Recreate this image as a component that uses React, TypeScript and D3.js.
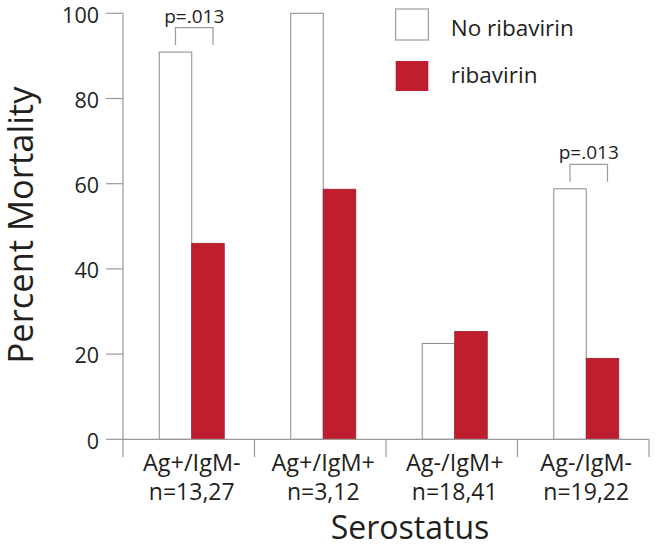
import React from "react";
import * as d3 from "d3";

const categories = ["Ag+/IgM-", "Ag+/IgM+", "Ag-/IgM+", "Ag-/IgM-"];
const sampleSizes = ["n=13,27", "n=3,12", "n=18,41", "n=19,22"];
const noRibavirin = [90.9, 100, 22.5, 58.8];
const ribavirin = [46, 58.7, 25.3, 19];
const yTicks = [0, 20, 40, 60, 80, 100];
const pValues = [{ group: 0, label: "p=.013" }, { group: 3, label: "p=.013" }];
const legendItems = ["No ribavirin", "ribavirin"];

const W = 656;
const H = 550;
const RED = "#be1e2d";
const GRAY = "#999999";
const TEXT = "#231f20";
const FONT = "'Open Sans', sans-serif";

export default function App() {
  const x = d3.scaleBand<string>().domain(categories).range([123, 649]).padding(0);
  const y = d3.scaleLinear().domain([0, 100]).range([439.3, 13.3]);
  const barW = 32.5;
  const offset = 3;
  const center = (c: string) => (x(c) as number) + x.bandwidth() / 2 + offset;
  const boundaries = [...categories.map((c) => x(c) as number), 649];

  return (
    <svg width={W} height={H} style={{ position: "absolute", left: 0, top: 0, background: "#fff" }} fontFamily={FONT}>
      <rect x={0} y={0} width={W} height={H} fill="#fff" />
      {/* bars */}
      {categories.map((c, i) => {
        const cx = center(c);
        return (
          <g key={c}>
            <rect x={cx - barW} y={y(noRibavirin[i])} width={barW} height={y(0) - y(noRibavirin[i])} fill="#fff" stroke="#8a8a8a" strokeWidth={1} />
            <rect x={cx} y={y(ribavirin[i])} width={barW} height={y(0) - y(ribavirin[i])} fill={RED} stroke="#a01825" strokeWidth={0.8} />
          </g>
        );
      })}
      {/* y axis */}
      <line x1={123} x2={123} y1={y(100)} y2={y(0)} stroke={GRAY} strokeWidth={1.2} />
      {yTicks.map((t) => (
        <g key={t}>
          <line x1={106} x2={123} y1={y(t)} y2={y(t)} stroke={GRAY} strokeWidth={1.2} />
          <text x={99} y={y(t) + 9.2} textAnchor="end" fontSize={21.5} fill={TEXT}>{t}</text>
        </g>
      ))}
      {/* x axis */}
      <line x1={123} x2={649} y1={y(0)} y2={y(0)} stroke={GRAY} strokeWidth={1.2} />
      {boundaries.map((b, i) => (
        <line key={i} x1={b} x2={b} y1={y(0)} y2={457} stroke={GRAY} strokeWidth={1.2} />
      ))}
      {categories.map((c, i) => (
        <g key={c}>
          <text x={center(c)} y={471} textAnchor="middle" fontSize={23.5} fill={TEXT}>{c}</text>
          <text x={center(c)} y={500} textAnchor="middle" fontSize={23} fill={TEXT}>{sampleSizes[i]}</text>
        </g>
      ))}
      {/* p-value brackets */}
      {pValues.map((p) => {
        const c = categories[p.group];
        const cx = center(c);
        const x1 = cx - barW / 2;
        const x2 = cx + barW / 2 + 5;
        const top = y(Math.max(noRibavirin[p.group], ribavirin[p.group]));
        const bottom = top - 7;
        const hy = bottom - 17.5;
        return (
          <g key={p.group}>
            <path d={`M${x1},${bottom}V${hy}H${x2}V${bottom}`} fill="none" stroke={GRAY} strokeWidth={1.2} />
            <text x={(x1 + x2) / 2} y={hy - 5} textAnchor="middle" fontSize={19} fill={TEXT}>{p.label}</text>
          </g>
        );
      })}
      {/* legend */}
      <rect x={395.7} y={9} width={32.6} height={31} fill="#fff" stroke="#8a8a8a" strokeWidth={1} />
      <rect x={395.7} y={61} width={32.6} height={30} fill={RED} />
      <text x={450.7} y={35.7} fontSize={22.5} fill={TEXT}>{legendItems[0]}</text>
      <text x={450.7} y={83.3} fontSize={22.5} fill={TEXT}>{legendItems[1]}</text>
      {/* axis titles */}
      <text transform={`translate(32.5,225) rotate(-90)`} textAnchor="middle" fontSize={34.5} fill={TEXT}>Percent Mortality</text>
      <text x={410} y={539.3} textAnchor="middle" fontSize={32} fill={TEXT}>Serostatus</text>
    </svg>
  );
}
